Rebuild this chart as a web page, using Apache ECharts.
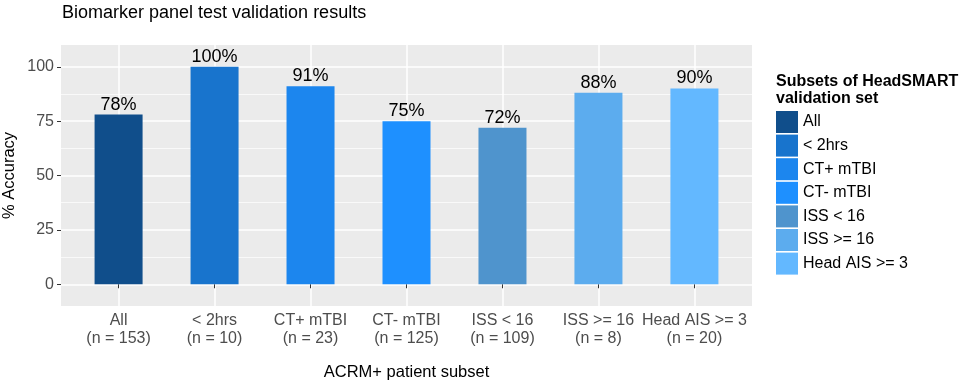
<!DOCTYPE html>
<html>
<head>
<meta charset="utf-8">
<script src="https://cdn.jsdelivr.net/npm/echarts@6/dist/echarts.min.js"></script>
<style>
  html, body { margin: 0; padding: 0; background: #fff; }
  #chart { width: 965px; height: 387px; }
</style>
</head>
<body>
<div id="chart"></div>
<script>
// subsets of the HeadSMART validation set
const subsets = ['All', '< 2hrs', 'CT+ mTBI', 'CT- mTBI', 'ISS < 16', 'ISS >= 16', 'Head AIS >= 3'];
const counts = [153, 10, 23, 125, 109, 8, 20];
const accuracy = [78, 100, 91, 75, 72, 88, 90];
const barColors = ['#104E8B', '#1874CD', '#1C86EE', '#1E90FF', '#4F94CD', '#5CACEE', '#63B8FF'];
const yTicks = [0, 25, 50, 75, 100];
const yMinor = [12.5, 37.5, 62.5, 87.5];
const xPos = subsets.map((s, i) => i + 1);

const chart = echarts.init(document.getElementById('chart'));

const series = subsets.map((name, i) => ({
  name: name,
  type: 'bar',
  stack: 'acc',
  barWidth: 48,
  data: [[xPos[i], accuracy[i]]],
  itemStyle: { color: barColors[i] },
  label: {
    show: true,
    position: 'top',
    distance: 1,
    fontSize: 18,
    color: '#000',
    formatter: (p) => p.value[1] + '%',
  },
}));

const option = {
  animation: false,
  textStyle: { fontFamily: 'Liberation Sans' },
  title: [
    {
      text: 'Biomarker panel test validation results',
      left: 62,
      top: 4,
      padding: 0,
      textStyle: { fontSize: 18, fontWeight: 'normal', color: '#000' },
    },
    {
      text: 'Subsets of HeadSMART\nvalidation set',
      left: 776,
      top: 73,
      padding: 0,
      textStyle: { fontSize: 16, fontWeight: 'bold', color: '#000', lineHeight: 17 },
    },
  ],
  legend: {
    orient: 'vertical',
    left: 776,
    top: 111,
    padding: 0,
    itemWidth: 22,
    itemHeight: 22,
    itemGap: 1.6,
    icon: 'rect',
    selectedMode: false,
    textStyle: { fontSize: 16, color: '#000' },
    data: subsets,
  },
  grid: {
    left: 61,
    right: 213,
    top: 45,
    bottom: 81,
    outerBoundsMode: 'none',
    containLabel: false,
    show: true,
    backgroundColor: '#ebebeb',
    borderWidth: 0,
  },
  xAxis: {
    type: 'value',
    min: 0.4,
    max: 7.6,
    name: 'ACRM+ patient subset',
    nameLocation: 'middle',
    nameGap: 58,
    nameMoveOverlap: false,
    nameTextStyle: { fontSize: 16.5, color: '#000' },
    axisLine: { show: false },
    axisTick: { show: true, customValues: xPos, length: 4, lineStyle: { color: '#333' } },
    axisLabel: {
      customValues: xPos,
      formatter: (v) => subsets[v - 1] + '\n(n = ' + counts[v - 1] + ')',
      fontSize: 16,
      color: '#4d4d4d',
      lineHeight: 18,
      margin: 6,
    },
    splitLine: { show: true, lineStyle: { color: '#fff', width: 1.5 } },
  },
  yAxis: [
    {
      type: 'value',
      min: -10,
      max: 110,
      name: '% Accuracy',
      nameLocation: 'middle',
      nameRotate: 90,
      nameGap: 43,
      nameMoveOverlap: false,
      nameTextStyle: { fontSize: 16.5, color: '#000' },
      axisLine: { show: false },
      axisTick: { show: true, customValues: yTicks, length: 4, lineStyle: { color: '#333' } },
      axisLabel: { customValues: yTicks, fontSize: 16, color: '#4d4d4d', margin: 7 },
      splitLine: { show: true, lineStyle: { color: '#fff', width: 1.5 } },
    },
    {
      type: 'value',
      min: -10,
      max: 110,
      position: 'left',
      axisLine: { show: false },
      axisTick: { show: false, customValues: yMinor },
      axisLabel: { show: false },
      splitLine: { show: true, lineStyle: { color: '#fff', width: 0.7 } },
    },
  ],
  series: series,
};

chart.setOption(option);
</script>
</body>
</html>
